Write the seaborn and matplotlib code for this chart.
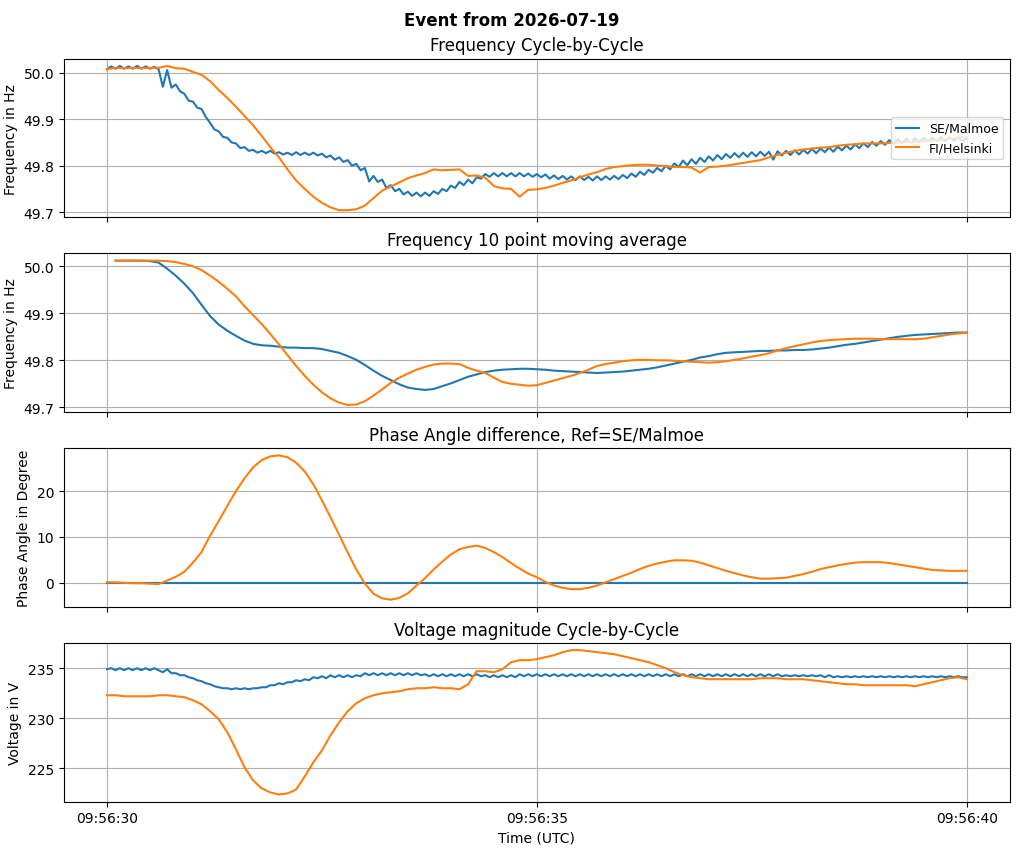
import numpy as np
import pandas as pd
import matplotlib
matplotlib.use("Agg")
import matplotlib.pyplot as plt
import matplotlib.dates as mdates
import seaborn as sns

# ---------------- data ----------------
start = pd.Timestamp("2026-07-19 09:56:30")
series_names = ["SE/Malmoe", "FI/Helsinki"]
colors = ["#1f77b4", "#ff7f0e"]

# Frequency cycle-by-cycle, SE/Malmoe (every 0.05 s from 09:56:30.00)
freq_cyc_se = [
    50.008, 50.014, 50.009, 50.015, 50.009, 50.014, 50.009, 50.015, 50.009, 50.014,
    50.009, 50.013, 50.008, 49.970, 50.006, 49.968, 49.975, 49.960, 49.955, 49.940,
    49.938, 49.925, 49.922, 49.905, 49.892, 49.878, 49.874, 49.862, 49.860, 49.850,
    49.848, 49.838, 49.840, 49.832, 49.834, 49.828, 49.832, 49.827, 49.832, 49.826,
    49.829, 49.824, 49.828, 49.823, 49.829, 49.823, 49.828, 49.823, 49.828, 49.822,
    49.826, 49.818, 49.822, 49.813, 49.818, 49.808, 49.812, 49.800, 49.804, 49.790,
    49.795, 49.766, 49.778, 49.765, 49.770, 49.752, 49.758, 49.745, 49.750, 49.738,
    49.744, 49.735, 49.742, 49.734, 49.742, 49.735, 49.745, 49.739, 49.750, 49.745,
    49.757, 49.752, 49.765, 49.758, 49.770, 49.762, 49.775, 49.772, 49.782, 49.776,
    49.784, 49.777, 49.784, 49.777, 49.784, 49.777, 49.784, 49.777, 49.783, 49.776,
    49.782, 49.775, 49.781, 49.772, 49.779, 49.771, 49.778, 49.770, 49.777, 49.769,
    49.777, 49.769, 49.776, 49.768, 49.777, 49.769, 49.777, 49.770, 49.778, 49.771,
    49.780, 49.773, 49.783, 49.776, 49.787, 49.780, 49.791, 49.785, 49.795, 49.788,
    49.800, 49.792, 49.805, 49.797, 49.811, 49.801, 49.814, 49.804, 49.817, 49.808,
    49.820, 49.811, 49.823, 49.814, 49.825, 49.817, 49.827, 49.818, 49.828, 49.819,
    49.829, 49.820, 49.830, 49.821, 49.830, 49.813, 49.831, 49.822, 49.832, 49.823,
    49.833, 49.824, 49.834, 49.826, 49.836, 49.827, 49.837, 49.829, 49.839, 49.830,
    49.841, 49.833, 49.843, 49.835, 49.846, 49.838, 49.848, 49.840, 49.851, 49.843,
    49.853, 49.845, 49.855, 49.847, 49.857, 49.849, 49.858, 49.850, 49.859, 49.851,
    49.860, 49.852, 49.860, 49.853, 49.861, 49.853, 49.861, 49.854, 49.861, 49.854,
    49.858,
]

# Frequency cycle-by-cycle, FI/Helsinki (every 0.1 s from 09:56:30.0)
freq_cyc_fi = [
    50.008, 50.011, 50.010, 50.011, 50.010, 50.011, 50.011, 50.015, 50.010, 50.009,
    50.002, 49.996, 49.982, 49.963, 49.946, 49.927, 49.907, 49.887, 49.864, 49.840,
    49.818, 49.792, 49.768, 49.750, 49.733, 49.720, 49.710, 49.704, 49.704, 49.706,
    49.714, 49.730, 49.746, 49.755, 49.764, 49.773, 49.779, 49.784, 49.792, 49.790,
    49.791, 49.792, 49.778, 49.779, 49.774, 49.756, 49.751, 49.750, 49.733, 49.748,
    49.749, 49.752, 49.757, 49.763, 49.768, 49.775, 49.781, 49.786, 49.793, 49.797,
    49.799, 49.801, 49.802, 49.802, 49.800, 49.799, 49.797, 49.797, 49.796, 49.785,
    49.797, 49.798, 49.800, 49.803, 49.806, 49.809, 49.812, 49.818, 49.823, 49.828,
    49.832, 49.835, 49.837, 49.839, 49.840, 49.843, 49.845, 49.846, 49.848, 49.848,
    49.848, 49.849, 49.850, 49.851, 49.852, 49.853, 49.854, 49.856, 49.858, 49.861,
    49.862,
]

# Frequency 10 point moving average (every 0.1 s from 09:56:30.1)
freq_ma_se = [
    50.012, 50.012, 50.012, 50.012, 50.011, 50.008, 49.995, 49.980, 49.963, 49.943,
    49.918, 49.894, 49.876, 49.863, 49.852, 49.842, 49.835, 49.832, 49.831, 49.829,
    49.827, 49.827, 49.826, 49.826, 49.824, 49.820, 49.816, 49.809, 49.801, 49.790,
    49.778, 49.767, 49.758, 49.749, 49.742, 49.739, 49.737, 49.739, 49.745, 49.751,
    49.758, 49.765, 49.770, 49.775, 49.778, 49.780, 49.781, 49.782, 49.782, 49.781,
    49.780, 49.778, 49.777, 49.776, 49.775, 49.774, 49.773, 49.774, 49.775, 49.776,
    49.778, 49.780, 49.782, 49.785, 49.789, 49.793, 49.797, 49.801, 49.806, 49.809,
    49.813, 49.816, 49.817, 49.818, 49.819, 49.820, 49.820, 49.821, 49.821, 49.822,
    49.822, 49.823, 49.825, 49.827, 49.830, 49.833, 49.835, 49.838, 49.841, 49.844,
    49.847, 49.850, 49.852, 49.854, 49.855, 49.856, 49.857, 49.858, 49.859, 49.859,
]
freq_ma_fi = [
    50.012, 50.012, 50.012, 50.012, 50.012, 50.012, 50.011, 50.009, 50.005, 50.000,
    49.992, 49.980, 49.967, 49.952, 49.936, 49.915, 49.896, 49.877, 49.856, 49.834,
    49.811, 49.788, 49.767, 49.748, 49.732, 49.719, 49.710, 49.705, 49.706, 49.713,
    49.725, 49.738, 49.752, 49.763, 49.772, 49.780, 49.786, 49.791, 49.793, 49.793,
    49.792, 49.784, 49.778, 49.773, 49.763, 49.754, 49.750, 49.748, 49.746, 49.747,
    49.752, 49.757, 49.762, 49.767, 49.773, 49.780, 49.788, 49.792, 49.795, 49.798,
    49.800, 49.801, 49.801, 49.800, 49.800, 49.799, 49.798, 49.797, 49.796, 49.795,
    49.796, 49.798, 49.801, 49.804, 49.808, 49.811, 49.815, 49.821, 49.826, 49.830,
    49.834, 49.838, 49.841, 49.843, 49.844, 49.845, 49.846, 49.846, 49.846, 49.845,
    49.845, 49.845, 49.845, 49.845, 49.846, 49.849, 49.852, 49.855, 49.857, 49.859,
]

# Phase angle difference (every 0.1 s from 09:56:30.0), reference = SE/Malmoe
phase_se = [0.0] * 101
phase_fi = [
    0.1, 0.1, 0.0, -0.1, -0.1, -0.2, -0.3, 0.5, 1.3, 2.4,
    4.4, 6.7, 10.3, 13.5, 16.8, 20.0, 22.8, 25.2, 26.8, 27.6,
    27.8, 27.4, 26.2, 24.3, 21.5, 18.0, 14.3, 10.5, 6.6, 2.9,
    -0.2, -2.4, -3.4, -3.7, -3.3, -2.3, -0.6, 1.0, 2.9, 4.6,
    6.2, 7.3, 7.8, 8.1, 7.6, 6.7, 5.6, 4.3, 3.1, 2.0,
    1.2, 0.2, -0.6, -1.1, -1.4, -1.4, -1.1, -0.6, 0.1, 0.8,
    1.5, 2.2, 3.0, 3.7, 4.2, 4.6, 4.9, 4.9, 4.8, 4.4,
    3.8, 3.2, 2.6, 2.1, 1.6, 1.2, 0.9, 0.9, 1.0, 1.1,
    1.5, 1.9, 2.4, 3.0, 3.4, 3.8, 4.1, 4.4, 4.5, 4.5,
    4.5, 4.3, 4.0, 3.7, 3.4, 3.1, 2.8, 2.7, 2.6, 2.6,
    2.6,
]

# Voltage magnitude cycle-by-cycle
volt_se = [  # every 0.05 s
    234.9, 235.0, 234.8, 235.0, 234.8, 235.0, 234.8, 235.0, 234.8, 235.0,
    234.8, 235.0, 234.8, 234.6, 234.9, 234.5, 234.5, 234.3, 234.3, 234.1,
    234.0, 233.8, 233.7, 233.5, 233.4, 233.2, 233.1, 233.0, 233.0, 232.9,
    233.0, 232.9, 233.0, 232.9, 233.0, 233.0, 233.1, 233.1, 233.3, 233.3,
    233.5, 233.4, 233.6, 233.6, 233.8, 233.7, 233.9, 233.8, 234.1, 234.0,
    234.2, 234.0, 234.3, 234.1, 234.3, 234.1, 234.3, 234.1, 234.3, 234.2,
    234.5, 234.3, 234.5, 234.3, 234.5, 234.3, 234.5, 234.3, 234.5, 234.3,
    234.5, 234.3, 234.5, 234.3, 234.4, 234.2, 234.4, 234.2, 234.4, 234.2,
    234.4, 234.2, 234.4, 234.2, 234.4, 234.2, 234.4, 234.2, 234.3, 234.1,
    234.3, 234.1, 234.3, 234.1, 234.3, 234.1, 234.4, 234.2, 234.4, 234.2,
    234.4, 234.2, 234.4, 234.2, 234.4, 234.2, 234.4, 234.2, 234.4, 234.2,
    234.4, 234.2, 234.4, 234.2, 234.4, 234.2, 234.4, 234.2, 234.4, 234.2,
    234.4, 234.2, 234.4, 234.2, 234.4, 234.2, 234.4, 234.2, 234.4, 234.2,
    234.4, 234.2, 234.4, 234.2, 234.4, 234.2, 234.4, 234.2, 234.4, 234.2,
    234.4, 234.2, 234.4, 234.2, 234.4, 234.2, 234.4, 234.2, 234.4, 234.2,
    234.4, 234.2, 234.4, 234.2, 234.4, 234.2, 234.4, 234.2, 234.3, 234.2,
    234.3, 234.2, 234.3, 234.2, 234.3, 234.2, 234.3, 234.1, 234.3, 234.1,
    234.2, 234.1, 234.2, 234.1, 234.2, 234.1, 234.2, 234.1, 234.2, 234.1,
    234.2, 234.1, 234.2, 234.1, 234.2, 234.1, 234.2, 234.1, 234.2, 234.1,
    234.2, 234.1, 234.2, 234.1, 234.2, 234.1, 234.2, 234.1, 234.2, 234.1,
    234.1,
]
volt_fi = [  # every 0.1 s
    232.3, 232.3, 232.2, 232.2, 232.2, 232.2, 232.3, 232.3, 232.2, 232.1,
    231.8, 231.4, 230.7, 229.9, 228.6, 226.9, 225.1, 223.8, 223.0, 222.6,
    222.4, 222.5, 222.9, 224.2, 225.6, 226.8, 228.3, 229.6, 230.7, 231.5,
    232.0, 232.3, 232.5, 232.6, 232.7, 232.9, 233.0, 233.0, 233.1, 233.0,
    233.0, 232.9, 233.4, 234.7, 234.7, 234.6, 234.9, 235.6, 235.8, 235.8,
    235.9, 236.1, 236.3, 236.6, 236.8, 236.8, 236.7, 236.6, 236.5, 236.4,
    236.2, 236.0, 235.8, 235.6, 235.3, 235.0, 234.6, 234.3, 234.1, 234.0,
    233.9, 233.9, 233.9, 233.9, 233.9, 233.9, 234.0, 234.0, 234.0, 233.9,
    233.9, 233.9, 233.8, 233.7, 233.6, 233.5, 233.4, 233.4, 233.3, 233.3,
    233.3, 233.3, 233.3, 233.3, 233.2, 233.4, 233.6, 233.8, 234.0, 234.1,
    233.9,
]

t_fast = pd.date_range(start, periods=len(freq_cyc_se), freq="50ms")
t_slow = pd.date_range(start, periods=len(freq_cyc_fi), freq="100ms")
t_ma = pd.date_range(start + pd.Timedelta("100ms"), periods=len(freq_ma_se), freq="100ms")

# ---------------- plot ----------------
fig, axes = plt.subplots(4, 1, figsize=(10.24, 8.53), dpi=100, sharex=True)
fig.subplots_adjust(left=0.0625, right=0.986, top=0.930, bottom=0.059, hspace=0.227)
fig.suptitle("Event from 2026-07-19", fontweight="bold", fontsize=12, y=0.986)

ax = axes[0]
sns.lineplot(x=t_fast, y=freq_cyc_se, ax=ax, color=colors[0], label=series_names[0])
sns.lineplot(x=t_slow, y=freq_cyc_fi, ax=ax, color=colors[1], label=series_names[1])
ax.set_title("Frequency Cycle-by-Cycle")
ax.set_ylabel("Frequency in Hz")
ax.legend(loc="center right", fontsize=9, handlelength=1.8)

ax = axes[1]
sns.lineplot(x=t_ma, y=freq_ma_se, ax=ax, color=colors[0])
sns.lineplot(x=t_ma, y=freq_ma_fi, ax=ax, color=colors[1])
ax.set_title("Frequency 10 point moving average")
ax.set_ylabel("Frequency in Hz")

ax = axes[2]
sns.lineplot(x=t_slow, y=phase_se, ax=ax, color=colors[0])
sns.lineplot(x=t_slow, y=phase_fi, ax=ax, color=colors[1])
ax.set_title("Phase Angle difference, Ref=SE/Malmoe")
ax.set_ylabel("Phase Angle in Degree")

ax = axes[3]
sns.lineplot(x=t_fast, y=volt_se, ax=ax, color=colors[0])
sns.lineplot(x=t_slow, y=volt_fi, ax=ax, color=colors[1])
ax.set_title("Voltage magnitude Cycle-by-Cycle")
ax.set_ylabel("Voltage in V")
ax.set_xlabel("Time (UTC)")

for ax in axes:
    ax.grid(True)
    ax.yaxis.get_major_formatter().set_useOffset(False)

axes[0].set_yticks([49.7, 49.8, 49.9, 50.0])
axes[1].set_yticks([49.7, 49.8, 49.9, 50.0])
axes[2].set_yticks([0, 10, 20])
axes[3].set_yticks([225, 230, 235])

axes[3].xaxis.set_major_locator(mdates.SecondLocator(bysecond=[30, 35, 40]))
axes[3].xaxis.set_major_formatter(mdates.DateFormatter("%H:%M:%S"))

fig.savefig("out.png", dpi=100)
